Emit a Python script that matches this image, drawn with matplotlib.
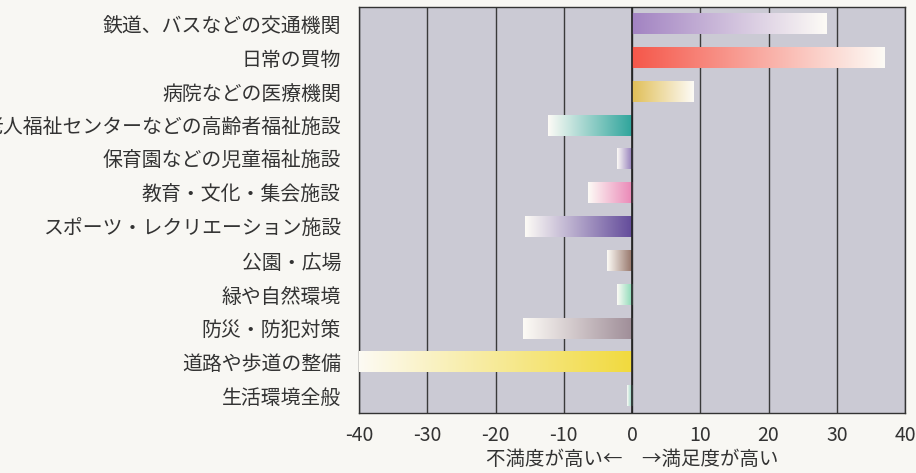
import matplotlib
matplotlib.use("Agg")
import matplotlib.pyplot as plt
import numpy as np
from matplotlib.colors import LinearSegmentedColormap

plt.rcParams['font.family'] = ['Noto Sans CJK JP', 'DejaVu Sans']

categories = [
    '鉄道、バスなどの交通機関',
    '日常の買物',
    '病院などの医療機関',
    '老人福祉センターなどの高齢者福祉施設',
    '保育園などの児童福祉施設',
    '教育・文化・集会施設',
    'スポーツ・レクリエーション施設',
    '公園・広場',
    '緑や自然環境',
    '防災・防犯対策',
    '道路や歩道の整備',
    '生活環境全般',
]
values = [28.5, 37.0, 9.0, -12.3, -2.2, -6.5, -15.7, -3.7, -2.2, -16.0, -40.5, -0.8]
bar_colors = ['#a283c2', '#f5574a', '#e0be57', '#2fa59c', '#8e78b8', '#ea86b6',
              '#624a9a', '#927064', '#86d8b4', '#9f8d98', '#f1da3e', '#7cc9b6']
xticks = [-40, -30, -20, -10, 0, 10, 20, 30, 40]

fig = plt.figure(figsize=(9.16, 4.73), dpi=100, facecolor='#f8f7f3')
ax = fig.add_axes([0.392, 0.127, 0.596, 0.858])
ax.set_facecolor('#cbcad4')

y = np.arange(len(categories))
bars = ax.barh(y, values, height=0.6, color='none', edgecolor='none', zorder=3)

# gradient fill: full colour at zero, fading to white at the far end
grad = np.linspace(0, 1, 256).reshape(1, -1)
for rect, val, col in zip(bars, values, bar_colors):
    cmap = LinearSegmentedColormap.from_list('g', [col, '#fdfbf6'])
    x0, y0 = rect.get_x(), rect.get_y()
    w, h = rect.get_width(), rect.get_height()
    # extent runs from zero toward the bar end, so grad starts at zero
    ax.imshow(grad, cmap=cmap, aspect='auto', zorder=3,
              extent=(x0, x0 + w, y0 + h, y0), interpolation='bilinear')

ax.set_xlim(-40, 40)
ax.set_ylim(len(categories) - 0.5, -0.5)
ax.set_xticks(xticks)
ax.set_xticklabels([str(t) for t in xticks], fontsize=14, color='#333333')
ax.set_yticks(y)
ax.set_yticklabels(categories, fontsize=14.3, color='#333333')
ax.tick_params(length=0, pad=13, axis='y')
ax.tick_params(length=0, pad=9, axis='x')
ax.xaxis.grid(True, color='#3a3a3a', linewidth=1.0, zorder=1)
ax.set_axisbelow(True)
ax.axvline(0, color='#222222', linewidth=1.2, zorder=4)
for s in ax.spines.values():
    s.set_color('#333333')
    s.set_linewidth(1.0)
ax.set_xlabel('不満度が高い←　→満足度が高い', fontsize=14, color='#333333', labelpad=2)

fig.savefig('out.png', dpi=100, facecolor=fig.get_facecolor())
